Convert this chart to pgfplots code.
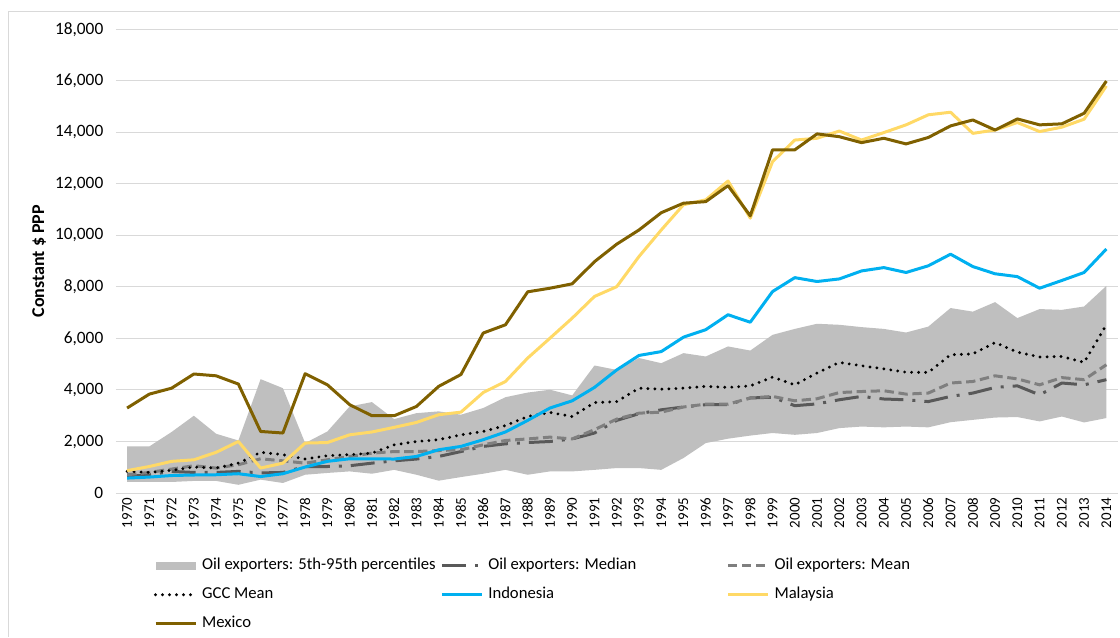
\documentclass[border=0pt]{standalone}
\usepackage{fontspec}
\setmainfont{Carlito}
\usepackage{pgfplots}
\pgfplotsset{compat=1.18}
\usepackage{pgfplotstable}
\usepgfplotslibrary{fillbetween}

\definecolor{bandgray}{HTML}{BFBFBF}
\definecolor{medgray}{HTML}{595959}
\definecolor{meangray}{HTML}{7F7F7F}
\definecolor{idn}{HTML}{00B0F0}
\definecolor{mys}{HTML}{FFD966}
\definecolor{mex}{HTML}{7F6000}
\definecolor{gridgray}{HTML}{D9D9D9}

% constant $ PPP; lo/hi = 5th/95th percentiles of oil exporters
\pgfplotstableread{
year lo   hi   med  mean gcc  idn  mys   mex
1970 430  1810 640  710  840  580  870   3300
1971 430  1810 710  800  800  620  1030  3840
1972 430  2370 840  930  880  680  1230  4070
1973 470  3000 800  1060 1010 700  1290  4620
1974 470  2300 800  970  970  710  1580  4550
1975 320  2040 840  1100 1160 750  2000  4230
1976 520  4420 780  1330 1580 640  970   2390
1977 390  4070 800  1250 1490 750  1160  2330
1978 710  1940 1030 1160 1320 1010 1940  4630
1979 780  2390 1030 1290 1450 1230 1960  4200
1980 840  3360 1060 1420 1490 1330 2260  3430
1981 750  3530 1160 1550 1550 1330 2370  3000
1982 900  2870 1250 1610 1870 1320 2550  3000
1983 710  3100 1320 1610 2000 1420 2740  3360
1984 480  3170 1420 1650 2070 1680 3040  4140
1985 620  3040 1610 1680 2260 1810 3140  4600
1986 750  3300 1810 1870 2390 2070 3900  6210
1987 900  3720 1910 2040 2620 2370 4330  6530
1988 710  3900 1960 2100 2970 2820 5240  7810
1989 840  4010 2000 2170 3130 3300 6010  7950
1990 840  3790 2100 2100 2970 3580 6790  8120
1991 900  4950 2330 2460 3510 4100 7630  8980
1992 970  4780 2820 2870 3550 4780 8010  9660
1993 970  5240 3080 3100 4070 5340 9180  10210
1994 900  5040 3230 3140 4030 5490 10210 10880
1995 1360 5430 3340 3340 4070 6050 11190 11250
1996 1940 5300 3430 3450 4140 6340 11380 11310
1997 2110 5690 3430 3450 4100 6920 12110 11930
1998 2230 5530 3690 3690 4160 6630 10670 10760
1999 2330 6140 3720 3750 4500 7820 12860 13320
2000 2260 6370 3390 3580 4200 8360 13700 13320
2001 2330 6570 3460 3660 4660 8210 13770 13940
2002 2520 6530 3620 3900 5070 8310 14050 13830
2003 2580 6440 3750 3940 4940 8620 13700 13600
2004 2550 6370 3650 3970 4820 8750 13990 13770
2005 2580 6230 3620 3840 4690 8560 14290 13550
2006 2550 6460 3550 3880 4680 8820 14680 13800
2007 2750 7180 3750 4270 5370 9270 14780 14250
2008 2840 7040 3880 4330 5400 8790 13960 14480
2009 2930 7410 4100 4550 5840 8510 14090 14090
2010 2950 6790 4160 4430 5470 8400 14380 14520
2011 2780 7140 3810 4200 5280 7950 14030 14290
2012 2970 7110 4270 4480 5300 8250 14200 14330
2013 2740 7240 4200 4400 5070 8560 14510 14740
2014 2910 8040 4400 4980 6530 9470 15800 15990
}\data

\begin{document}
\begin{tikzpicture}
\begin{axis}[
  scale only axis, width=751.5pt, height=348pt,
  xmin=1969.5, xmax=2014.5, ymin=0, ymax=18000,
  clip=false,
  axis line style={draw=none}, tick style={draw=none},
  ymajorgrids, grid style={color=gridgray, line width=0.75pt},
  xtick={1970,...,2014}, ytick={0,2000,...,18000},
  scaled ticks=false,
  /pgf/number format/assume math mode=true,
  /pgf/number format/1000 sep={,},
  x tick label style={rotate=90, anchor=east, font=\fontsize{11.2}{13}\selectfont,
    /pgf/number format/1000 sep={}},
  y tick label style={font=\fontsize{13}{15}\selectfont, xshift=-6pt},
  ylabel={\textbf{Constant \$ PPP}},
  every axis y label/.style={at={(axis description cs:-0.0768,0.5)}, rotate=90,
    anchor=center, font=\fontsize{13.5}{16}\selectfont},
  line join=round,
  legend columns=3, legend cell align=left,
  legend image code/.code={\draw[#1] (0pt,0pt) -- (30pt,0pt);},
  legend style={at={(0.0379,-0.141)}, anchor=north west, draw=none, fill=none,
    inner sep=0pt, outer sep=0pt, column sep=3.75pt, row sep=10.75pt,
    font=\fontsize{12.5}{15}\selectfont,
    nodes={inner sep=0pt, text height=8.5pt, text depth=2.5pt}},
]
\addplot[name path=hi, draw=none, forget plot] table[x=year, y=hi] {\data};
\addplot[name path=lo, draw=none, forget plot] table[x=year, y=lo] {\data};
\addplot[fill=bandgray, draw=none,
  legend image code/.code={\fill[bandgray] (0pt,-3pt) rectangle (30pt,3pt);}]
  fill between[of=hi and lo];
\addlegendentry{\makebox[175pt][l]{Oil exporters: 5th-95th percentiles}}

\addplot[medgray, line width=2.25pt, dash pattern=on 18pt off 6.75pt on 2.25pt off 6.75pt]
  table[x=year, y=med] {\data};
\addlegendentry{\makebox[175pt][l]{Oil exporters: Median}}

\addplot[meangray, line width=2.25pt, dash pattern=on 7pt off 3.5pt]
  table[x=year, y=mean] {\data};
\addlegendentry{\makebox[175pt][l]{Oil exporters: Mean}}

\addplot[black, line width=2.4pt, line cap=round, dash pattern=on 0pt off 5.25pt]
  table[x=year, y=gcc] {\data};
\addlegendentry{\makebox[175pt][l]{GCC Mean}}

\addplot[idn, line width=2.25pt] table[x=year, y=idn] {\data};
\addlegendentry{\makebox[175pt][l]{Indonesia}}

\addplot[mys, line width=2.25pt] table[x=year, y=mys] {\data};
\addlegendentry{\makebox[175pt][l]{Malaysia}}

\addplot[mex, line width=2.25pt] table[x=year, y=mex] {\data};
\addlegendentry{\makebox[175pt][l]{Mexico}}

% picture frame and chart border
\path (rel axis cs:-0.1158,-0.3097) rectangle (rel axis cs:1.002,1.0631);
\draw[gridgray, line width=0.75pt] (rel axis cs:-0.1078,-0.3097)
  -- (rel axis cs:-0.1078,1.0373) -- (rel axis cs:1.002,1.0373);
\end{axis}
\end{tikzpicture}
\end{document}
